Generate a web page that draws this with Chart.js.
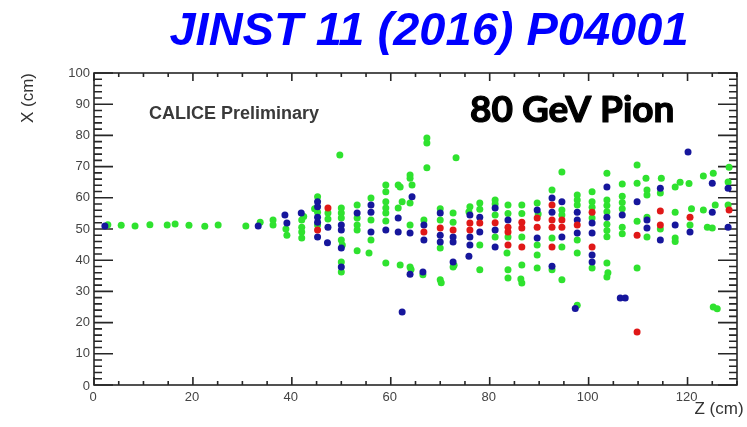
<!DOCTYPE html>
<html>
<head>
<meta charset="utf-8">
<title>80 GeV Pion event display</title>
<script src="https://cdn.jsdelivr.net/npm/chart.js@4.4.0/dist/chart.umd.min.js"></script>
<style>
  html, body { margin: 0; padding: 0; background: #fff; }
  #wrap { width: 747px; height: 427px; }
</style>
</head>
<body>
<div id="wrap"><canvas id="eventChart" width="747" height="427"></canvas></div>
<script>
// hits as [z (cm), x (cm)]
const greenHits = [
  [2.8, 51.4], [5.5, 51.2], [8.3, 51.0], [11.3, 51.4], [14.8, 51.3], [16.4, 51.6], [19.2, 51.2],
  [22.4, 50.9], [25.1, 51.3], [30.7, 51.0],
  [33.6, 52.2], [36.2, 52.9], [36.2, 51.3], [38.8, 50.0], [39.0, 48.0],
  [42.0, 52.9], [42.0, 50.6], [42.0, 49.0], [42.0, 47.1], [42.4, 54.0],
  [45.2, 60.3], [45.2, 55.4], [45.2, 51.3], [44.6, 56.5],
  [47.3, 55.1], [47.3, 53.2],
  [50.0, 56.7], [50.0, 55.1], [50.0, 53.5], [50.0, 46.5], [50.0, 39.4], [50.0, 36.2], [49.7, 73.7], [50.2, 44.9],
  [53.2, 57.7], [53.2, 53.5], [53.2, 51.3], [53.2, 49.7], [53.2, 43.0],
  [56.0, 59.9], [56.0, 52.9], [56.0, 46.5], [55.6, 42.3],
  [59.0, 64.1], [59.0, 61.9], [59.0, 58.7], [59.0, 56.7], [59.0, 55.1], [59.0, 52.6], [59.0, 39.1],
  [61.5, 64.1], [61.5, 56.7], [61.9, 38.5], [62.3, 58.7], [61.9, 63.5],
  [63.9, 67.3], [63.9, 66.3], [64.3, 64.1], [63.9, 58.3], [63.9, 51.3], [63.9, 37.8], [64.1, 37.0],
  [67.3, 79.2], [67.3, 77.6], [67.3, 69.6], [66.7, 52.9], [66.5, 35.3],
  [70.0, 56.5], [70.0, 52.9], [70.0, 43.9], [70.0, 33.7], [70.2, 32.8],
  [73.2, 72.8], [72.6, 55.1], [72.6, 52.2], [72.6, 37.8], [72.8, 38.4],
  [76.0, 57.1], [75.8, 55.5],
  [78.0, 58.3], [78.0, 56.3], [78.0, 44.9], [78.0, 36.9],
  [81.1, 59.3], [81.1, 54.5], [81.1, 47.4], [81.1, 58.0],
  [83.7, 57.7], [83.7, 55.0], [83.7, 47.4], [83.7, 36.9], [83.7, 34.3], [83.5, 42.3],
  [86.5, 57.7], [86.5, 55.0], [86.5, 47.4], [86.5, 38.5], [86.5, 32.7], [86.3, 34.0],
  [89.6, 58.3], [89.6, 44.9], [89.6, 41.7], [89.6, 37.5], [89.8, 54.8],
  [92.6, 62.5], [92.6, 47.1], [92.6, 36.9],
  [94.6, 68.3], [94.6, 56.1], [94.6, 44.2], [94.6, 33.7], [94.6, 54.5],
  [97.7, 60.9], [97.7, 59.3], [97.7, 57.7], [97.7, 42.3], [97.7, 25.6], [97.7, 46.5],
  [100.7, 61.9], [100.7, 58.7], [100.7, 37.5], [100.7, 57.0], [100.7, 53.5],
  [103.7, 67.9], [103.7, 59.3], [103.7, 57.5], [103.7, 55.5], [103.7, 51.5], [103.7, 49.5], [103.7, 47.5],
  [103.7, 39.1], [103.7, 34.6], [103.9, 36.0],
  [106.8, 64.4], [106.8, 60.5], [106.8, 58.5], [106.8, 56.5], [106.8, 50.6], [106.8, 48.5],
  [109.8, 70.5], [109.8, 64.7], [109.8, 37.5], [109.8, 52.5],
  [111.6, 66.3], [111.8, 62.5], [111.8, 60.9], [111.8, 53.8], [111.8, 47.4],
  [114.7, 66.3], [114.5, 61.5], [114.5, 50.0],
  [117.5, 63.5], [118.5, 65.0], [117.5, 55.4], [117.5, 47.1], [117.5, 46.0],
  [120.3, 64.6], [120.5, 51.3], [120.8, 56.5],
  [123.2, 67.0], [123.2, 56.1], [124.0, 50.6], [125.6, 57.7], [125.2, 67.9], [125.0, 50.3],
  [125.2, 25.0], [126.0, 24.4],
  [128.4, 69.8], [128.2, 65.1], [128.2, 57.7]
];

const blueHits = [
  [2.2, 51.0], [33.2, 51.0], [38.6, 54.5], [39.0, 51.9], [41.9, 55.1],
  [45.2, 58.7], [45.2, 57.1], [45.2, 53.8], [45.2, 52.2], [45.2, 47.4],
  [47.3, 50.6], [47.2, 45.6],
  [50.0, 51.3], [50.0, 49.7], [50.0, 43.9], [50.0, 37.8],
  [53.2, 55.1],
  [56.0, 57.7], [56.0, 55.4], [56.0, 49.0],
  [59.0, 49.7],
  [61.5, 53.5], [61.5, 49.0], [62.3, 23.4],
  [64.3, 60.3], [63.9, 48.7], [63.9, 35.5],
  [66.7, 51.3], [66.7, 46.5], [66.5, 36.2],
  [70.0, 55.1], [70.0, 48.0], [70.0, 45.8],
  [72.6, 47.4], [72.6, 45.8], [72.6, 39.4],
  [76.0, 54.5], [76.0, 47.4], [76.0, 44.9], [75.8, 41.3],
  [78.0, 53.8], [78.0, 49.0],
  [81.1, 56.7], [81.1, 49.7], [81.1, 44.2],
  [83.7, 52.9],
  [89.6, 56.1], [89.6, 47.1],
  [92.6, 59.9], [92.6, 55.4], [92.6, 38.1],
  [94.6, 58.7], [94.6, 47.4],
  [97.7, 55.4], [97.7, 52.9], [97.7, 48.7], [97.3, 24.5],
  [100.7, 51.9], [100.7, 48.7], [100.7, 41.7], [100.7, 39.4],
  [103.7, 63.5], [103.7, 53.8],
  [106.8, 54.5], [106.4, 27.9], [107.4, 27.9],
  [109.8, 58.7],
  [111.8, 52.9], [111.8, 50.3],
  [114.5, 63.1], [114.5, 46.5],
  [117.5, 51.3],
  [120.1, 74.7], [120.5, 49.0],
  [125.0, 64.7], [125.0, 55.4],
  [128.2, 63.1], [128.2, 50.6]
];

const redHits = [
  [45.2, 49.7], [47.3, 56.7], [66.7, 49.0], [70.0, 50.3], [72.6, 49.7],
  [76.0, 51.9], [76.0, 49.7], [78.0, 51.9], [81.1, 52.0],
  [83.7, 50.6], [83.7, 49.0], [83.7, 44.9],
  [86.5, 52.2], [86.5, 50.3], [86.5, 44.2],
  [89.6, 53.5], [89.6, 50.6],
  [92.6, 57.7], [92.6, 52.9], [92.6, 50.6], [92.6, 44.2],
  [94.6, 52.9], [94.6, 50.6], [97.7, 51.3],
  [100.7, 55.4], [100.7, 44.2],
  [109.8, 48.0], [109.8, 17.0],
  [114.5, 55.8], [114.5, 51.3], [120.5, 53.8], [128.4, 56.1]
];

const zTicks = [0, 20, 40, 60, 80, 100, 120];
const xTicks = [0, 10, 20, 30, 40, 50, 60, 70, 80, 90, 100];

function toPoints(hits) {
  return hits.map(h => ({ x: h[0], y: h[1] }));
}

// box frame with inward ticks, tick labels and all text
const frameAxes = {
  id: "frameAxes",
  beforeDatasetsDraw(chart) {
    const ctx = chart.ctx;
    const a = chart.chartArea;
    const zs = chart.scales.x;
    const xs = chart.scales.y;
    ctx.save();
    ctx.strokeStyle = "#262626";
    ctx.lineWidth = 1.6;
    ctx.strokeRect(a.left, a.top, a.right - a.left, a.bottom - a.top);

    ctx.beginPath();
    for (let z = 0; z <= 130; z += 5) {
      const px = zs.getPixelForValue(z);
      const len = z % 20 === 0 ? 8 : 4;
      ctx.moveTo(px, a.bottom); ctx.lineTo(px, a.bottom - len);
      ctx.moveTo(px, a.top); ctx.lineTo(px, a.top + len);
    }
    for (let x = 0; x <= 100; x += 2) {
      const py = xs.getPixelForValue(x);
      const len = x % 10 === 0 ? 19 : 8;
      ctx.moveTo(a.left, py); ctx.lineTo(a.left + len, py);
      ctx.moveTo(a.right, py); ctx.lineTo(a.right - len, py);
    }
    ctx.stroke();

    ctx.fillStyle = "#444";
    ctx.font = "13px 'Liberation Sans', Arial, sans-serif";
    ctx.textAlign = "right";
    ctx.textBaseline = "middle";
    xTicks.forEach(v => {
      const py = xs.getPixelForValue(v);
      ctx.fillText(String(v), a.left - 4, v === 0 ? py + 1 : py);
    });
    ctx.textAlign = "center";
    ctx.textBaseline = "top";
    zTicks.forEach(v => {
      ctx.fillText(String(v), zs.getPixelForValue(v) - 1, a.bottom + 6);
    });

    // axis titles
    ctx.fillStyle = "#333";
    ctx.font = "17px 'Liberation Sans', Arial, sans-serif";
    ctx.textAlign = "center";
    ctx.textBaseline = "middle";
    ctx.fillText("Z (cm)", 719, 409);
    ctx.save();
    ctx.translate(28, 98);
    ctx.rotate(-Math.PI / 2);
    ctx.fillText("X (cm)", 0, 0);
    ctx.restore();

    ctx.fillStyle = "#3a3a3a";
    ctx.font = "bold 18px 'Liberation Sans', Arial, sans-serif";
    ctx.textAlign = "left";
    ctx.textBaseline = "alphabetic";
    ctx.fillText("CALICE Preliminary", 149, 119);

    // heavier label: fill plus a thin stroke
    ctx.fillStyle = "#000";
    ctx.strokeStyle = "#000";
    ctx.lineWidth = 1.2;
    ctx.lineJoin = "round";
    ctx.font = "bold 37px Lato, 'Open Sans', sans-serif";
    ctx.fillText("80 GeV Pion", 470, 122);
    ctx.strokeText("80 GeV Pion", 470, 122);

    ctx.fillStyle = "#0000ff";
    ctx.font = "italic bold 47px 'Liberation Sans', Arial, sans-serif";
    ctx.textAlign = "center";
    ctx.fillText("JINST 11 (2016) P04001", 429, 45);
    ctx.restore();
  }
};

const ctx = document.getElementById("eventChart").getContext("2d");
const eventChart = new Chart(ctx, {
  type: "scatter",
  data: {
    datasets: [
      { label: "red", data: toPoints(redHits), backgroundColor: "#e01818" },
      { label: "blue", data: toPoints(blueHits), backgroundColor: "#16169c" },
      { label: "green", data: toPoints(greenHits), backgroundColor: "#2fe22f" }
    ]
  },
  options: {
    responsive: false,
    animation: false,
    devicePixelRatio: 1,
    layout: { padding: { left: 94, right: 10, top: 73, bottom: 42 } },
    scales: {
      x: { type: "linear", min: 0, max: 130, display: false },
      y: { type: "linear", min: 0, max: 100, display: false }
    },
    elements: { point: { radius: 3.5, borderWidth: 0, hoverRadius: 3.5 } },
    plugins: {
      legend: { display: false },
      tooltip: { enabled: false }
    }
  },
  plugins: [frameAxes]
});
</script>
</body>
</html>
